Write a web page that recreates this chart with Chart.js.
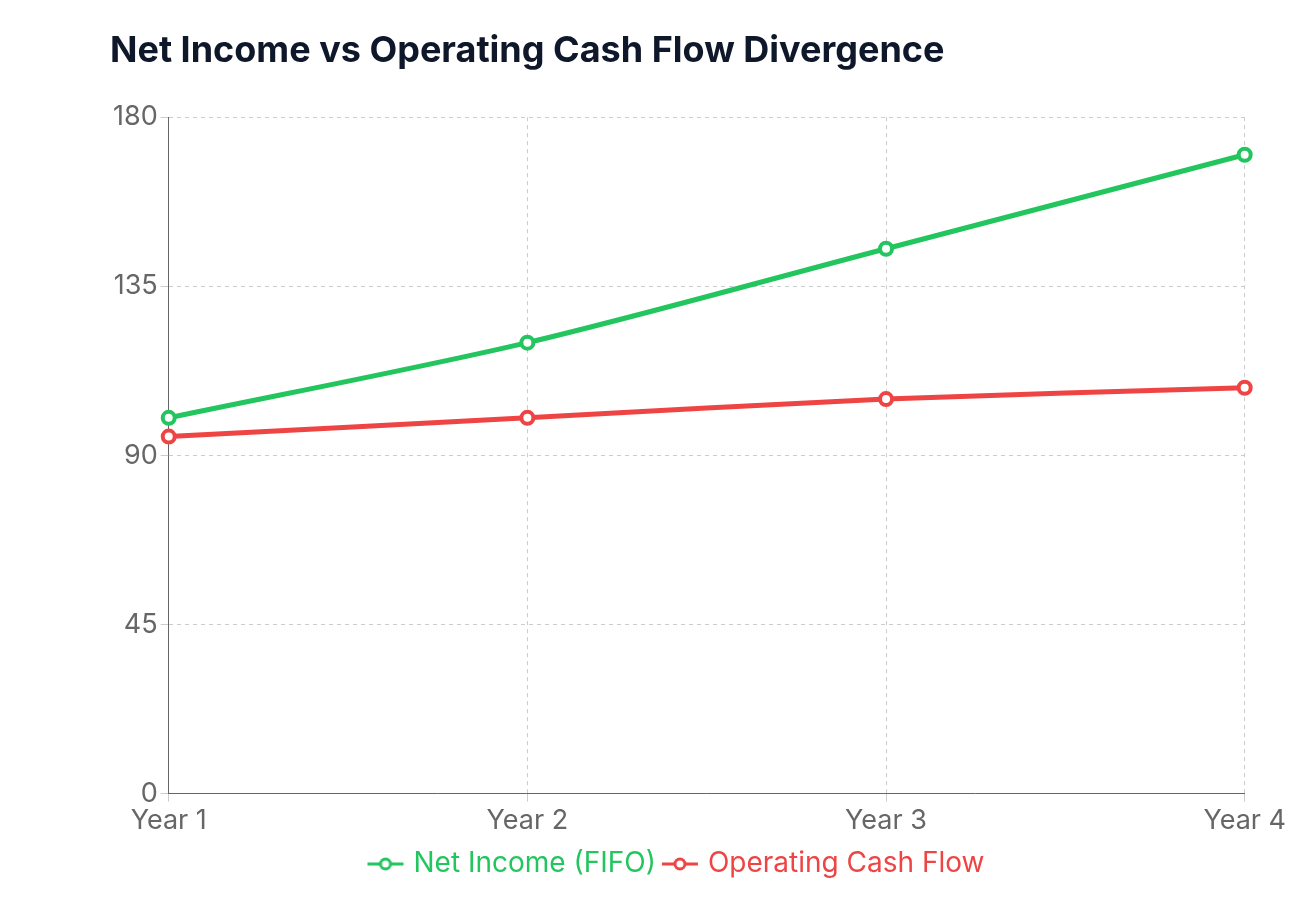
<!DOCTYPE html>
<html><head><meta charset="utf-8">
<script src="https://cdn.jsdelivr.net/npm/chart.js@4"></script>
<style>html,body{margin:0;padding:0;background:#fff}#wrap{width:1289px;height:916px}</style>
</head><body><div id="wrap"><canvas id="c" width="1289" height="916"></canvas></div>
<script>
const categories=["Year 1","Year 2","Year 3","Year 4"];
const netIncome=[100,120,145,170];
const opCashFlow=[95,100,105,108];
const yTicks=[0,45,90,135,180];
function marker(color){const c=document.createElement('canvas');c.width=40;c.height=16;const g=c.getContext('2d');g.strokeStyle=color;g.lineWidth=3;g.beginPath();g.moveTo(2,8);g.lineTo(38,8);g.stroke();g.fillStyle='#fff';g.beginPath();g.arc(20,8,5,0,Math.PI*2);g.fill();g.stroke();return c;}
new Chart(document.getElementById('c'),{
type:'line',
data:{labels:categories,datasets:[
{label:'Net Income (FIFO)',data:netIncome,borderColor:'#22c55e',backgroundColor:'#fff',borderWidth:5,pointRadius:6,pointBorderWidth:4,tension:0.3},
{label:'Operating Cash Flow',data:opCashFlow,borderColor:'#ef4444',backgroundColor:'#fff',borderWidth:5,pointRadius:6,pointBorderWidth:4,tension:0.3}
]},
options:{responsive:false,animation:false,
layout:{padding:{left:110,right:43,top:10,bottom:28}},
plugins:{
title:{display:true,text:'Net Income vs Operating Cash Flow Divergence',align:'start',color:'#0f172a',font:{family:'Inter',size:36,weight:'bold'},padding:{top:20,bottom:44}},
legend:{position:'bottom',labels:{usePointStyle:true,boxWidth:30,boxHeight:16,padding:10,font:{family:'Inter',size:28},
generateLabels(chart){return chart.data.datasets.map((d,i)=>({text:d.label,fillStyle:'#fff',strokeStyle:d.borderColor,lineWidth:3,fontColor:d.borderColor,pointStyle:marker(d.borderColor),datasetIndex:i}));}}}
},
scales:{
x:{grid:{color:'#ccc',tickLength:8},border:{color:'#666',dash:[4,4]},ticks:{color:'#666',font:{family:'Inter',size:27}}},
y:{min:0,max:180,afterBuildTicks(s){s.ticks=yTicks.map(v=>({value:v}));},grid:{color:'#ccc',tickLength:8},border:{color:'#666',dash:[4,4]},ticks:{color:'#666',font:{family:'Inter',size:27}}}
}}
});
</script></body></html>
